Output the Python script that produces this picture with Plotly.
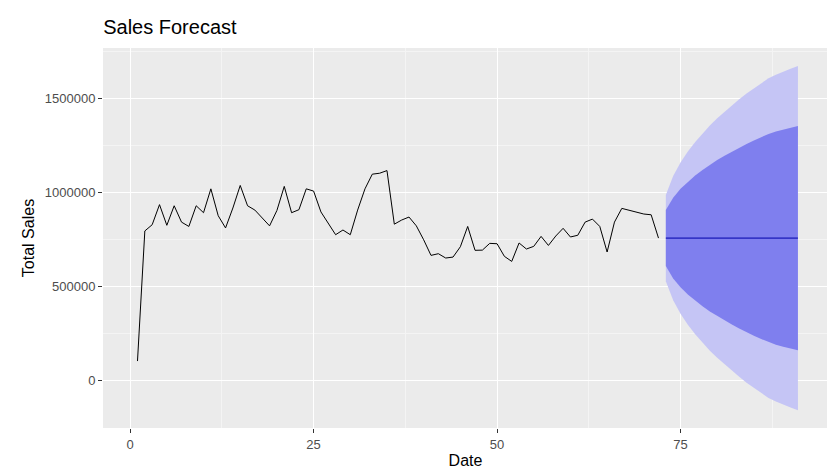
import plotly.graph_objects as go

hist_x = list(range(1, 73))
hist_y = [101000, 793000, 826000, 933000, 823000, 927000, 840000, 817000, 927000, 890000,
          1017000, 874000, 809000, 915000, 1035000, 927000, 904000, 860000, 820000, 902000,
          1030000, 890000, 906000, 1017000, 1005000, 894000, 832000, 773000, 798000, 773000,
          904000, 1017000, 1095000, 1100000, 1114000, 829000, 851000, 867000, 820000, 746000,
          663000, 672000, 649000, 654000, 709000, 817000, 690000, 691000, 727000, 725000,
          658000, 631000, 729000, 697000, 711000, 764000, 716000, 766000, 807000, 761000,
          770000, 840000, 856000, 817000, 681000, 840000, 913000, 902000, 892000, 883000,
          879000, 755000]
fc_x = list(range(73, 92))
fc_mean = [755000] * 19
hw80 = [149000, 215000, 262000, 300000, 333000, 362000, 390000, 415000, 438000, 460000,
        481000, 501000, 519000, 537000, 554000, 567000, 578000, 588000, 596000]
hw95 = [229000, 330000, 402000, 461000, 511000, 556000, 599000, 637000, 672000, 706000,
        738000, 769000, 797000, 824000, 850000, 869000, 886000, 901000, 915000]

fig = go.Figure()
def band(hw, color):
    up = [m + h for m, h in zip(fc_mean, hw)]
    lo = [m - h for m, h in zip(fc_mean, hw)]
    fig.add_trace(go.Scatter(x=fc_x + fc_x[::-1], y=up + lo[::-1], fill="toself",
                             fillcolor=color, line=dict(width=0), mode="lines",
                             hoverinfo="skip", showlegend=False))
band(hw95, "#C5C5F5")
band(hw80, "#7F7FEE")
fig.add_trace(go.Scatter(x=fc_x, y=fc_mean, mode="lines", line=dict(color="#0000AA", width=1),
                         showlegend=False))
fig.add_trace(go.Scatter(x=hist_x, y=hist_y, mode="lines", line=dict(color="black", width=1),
                         showlegend=False))

fig.update_layout(
    width=835, height=475, paper_bgcolor="white", plot_bgcolor="#EBEBEB",
    margin=dict(l=95, r=15, t=40, b=55, autoexpand=False),
    title=dict(text="Sales Forecast", x=0.114, xanchor="left", y=0.96, yanchor="middle",
               font=dict(size=20, color="black", family="Liberation Sans")),
    font=dict(family="Liberation Sans"),
    xaxis=dict(range=[-3.7, 95.1], tickvals=[0, 25, 50, 75], gridcolor="white", gridwidth=1.2,
               zeroline=False, ticks="outside", ticklen=4, tickcolor="#333333", automargin=False,
               tickfont=dict(size=13, color="#4D4D4D"),
               title=dict(text="Date", font=dict(size=16, color="black"), standoff=4),
               minor=dict(tickvals=[12.5, 37.5, 62.5, 87.5], gridcolor="#F4F4F4", gridwidth=0.6, showgrid=True)),
    yaxis=dict(range=[-255000, 1766000], tickvals=[0, 500000, 1000000, 1500000],
               ticktext=["0", "500000", "1000000", "1500000"], gridcolor="white", gridwidth=1.2,
               zeroline=False, ticks="outside", ticklen=4, tickcolor="#333333", automargin=False,
               tickfont=dict(size=13, color="#4D4D4D"),
               title=dict(text="Total Sales", font=dict(size=16, color="black"), standoff=6),
               minor=dict(tickvals=[-250000, 250000, 750000, 1250000, 1750000], gridcolor="#F4F4F4",
                          gridwidth=0.6, showgrid=True)),
)
fig.write_html("out.html")
